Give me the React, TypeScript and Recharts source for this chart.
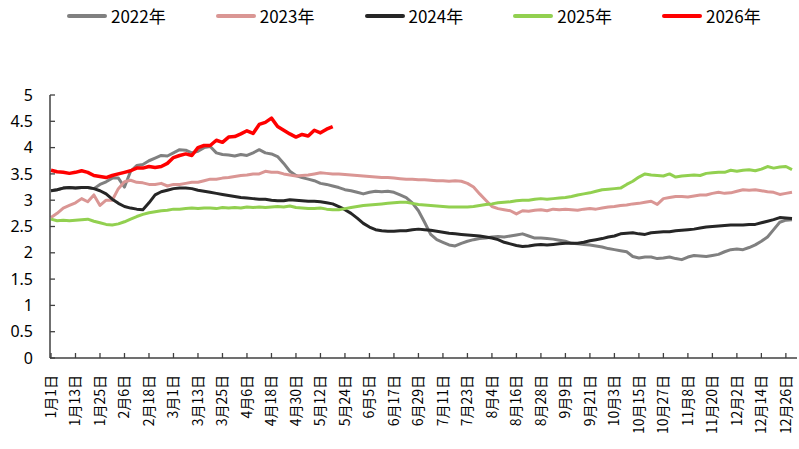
import React from 'react';
import { LineChart, Line, XAxis, YAxis } from 'recharts';

// every 3rd day of the (leap) year, Jan 1 .. Dec 29
const dates = Array.from({ length: 122 }, (_, i) => {
  const d = new Date(2024, 0, 1 + i * 3);
  return `${d.getMonth() + 1}月${d.getDate()}日`;
});

const yTicks = [0, 0.5, 1, 1.5, 2, 2.5, 3, 3.5, 4, 4.5, 5];

const v2022 = [
  3.18, 3.2, 3.23, 3.24, 3.23, 3.24, 3.24, 3.22, 3.3, 3.35,
  3.42, 3.42, 3.25, 3.55, 3.66, 3.68, 3.75, 3.8, 3.85, 3.84,
  3.9, 3.96, 3.95, 3.9, 3.93, 4.0, 4.02, 3.9, 3.87, 3.86,
  3.84, 3.87, 3.85, 3.9, 3.96, 3.9, 3.88, 3.83, 3.7, 3.55,
  3.47, 3.43, 3.4, 3.37, 3.32, 3.3, 3.27, 3.24, 3.2, 3.18,
  3.15, 3.12, 3.15, 3.17, 3.16, 3.17, 3.15, 3.1, 3.05, 2.95,
  2.8, 2.58, 2.35, 2.25, 2.2, 2.15, 2.13, 2.18, 2.22, 2.25,
  2.27, 2.28, 2.3, 2.31, 2.3, 2.32, 2.34, 2.36, 2.32, 2.28,
  2.28, 2.27, 2.26, 2.24, 2.22, 2.18, 2.17, 2.16, 2.15, 2.13,
  2.11, 2.08, 2.06, 2.04, 2.02, 1.93, 1.9, 1.92, 1.92, 1.89,
  1.9, 1.92, 1.89, 1.87, 1.92, 1.95, 1.94, 1.93, 1.95, 1.97,
  2.02, 2.06, 2.07, 2.06, 2.1, 2.15, 2.22, 2.3, 2.44, 2.58,
  2.62, 2.63,
];

const v2023 = [
  2.67, 2.75, 2.85, 2.9, 2.95, 3.03, 2.97, 3.1, 2.9, 3.0,
  3.0, 3.22, 3.35, 3.38, 3.34, 3.33, 3.3, 3.3, 3.32, 3.27,
  3.3, 3.3, 3.32, 3.34, 3.34, 3.37, 3.4, 3.4, 3.42, 3.43,
  3.45, 3.47, 3.48, 3.5, 3.5, 3.55, 3.53, 3.53, 3.5, 3.48,
  3.46, 3.47, 3.48, 3.5, 3.52, 3.51, 3.5, 3.5, 3.49, 3.48,
  3.47, 3.46, 3.45, 3.44, 3.43, 3.43, 3.42, 3.41, 3.4, 3.4,
  3.39, 3.39, 3.38, 3.37, 3.37, 3.36, 3.37, 3.36, 3.32, 3.25,
  3.12, 3.0, 2.88, 2.84, 2.82, 2.8, 2.74, 2.8, 2.79, 2.81,
  2.82, 2.8, 2.83, 2.82, 2.83, 2.82, 2.81, 2.83, 2.84, 2.83,
  2.85, 2.87, 2.88, 2.9, 2.91, 2.93, 2.94, 2.96, 2.98, 2.92,
  3.03, 3.05, 3.07, 3.07, 3.06, 3.08, 3.1, 3.1, 3.13, 3.15,
  3.13, 3.14, 3.17, 3.2, 3.19, 3.2, 3.18, 3.16, 3.15, 3.11,
  3.13, 3.15,
];

const v2024 = [
  3.18, 3.2, 3.23, 3.24, 3.23, 3.24, 3.24, 3.22, 3.18, 3.12,
  3.02, 2.94, 2.88, 2.85, 2.83, 2.82, 2.95, 3.1, 3.16, 3.19,
  3.22, 3.23, 3.23, 3.22, 3.19, 3.17, 3.15, 3.13, 3.11, 3.09,
  3.07, 3.05, 3.04, 3.03, 3.02, 3.02, 3.0, 2.99, 2.99, 3.01,
  3.0, 2.99, 2.98, 2.98, 2.97, 2.95, 2.93, 2.88, 2.82, 2.75,
  2.66, 2.56, 2.49, 2.44, 2.42, 2.41, 2.41, 2.42, 2.42, 2.44,
  2.45, 2.44, 2.43, 2.41, 2.39, 2.37, 2.36, 2.35, 2.34, 2.33,
  2.32, 2.3, 2.28, 2.25, 2.2, 2.17, 2.14, 2.12, 2.13, 2.15,
  2.16, 2.15, 2.16, 2.17, 2.18, 2.18, 2.18, 2.2, 2.23, 2.25,
  2.27, 2.3, 2.32, 2.36, 2.37, 2.38, 2.36, 2.35, 2.38, 2.39,
  2.4, 2.4, 2.42, 2.43, 2.44, 2.45, 2.47, 2.49, 2.5, 2.51,
  2.52, 2.53, 2.53, 2.53, 2.54, 2.54, 2.57, 2.6, 2.63, 2.67,
  2.66, 2.65,
];

const v2025 = [
  2.64, 2.61, 2.62, 2.61, 2.62, 2.63, 2.64, 2.6, 2.57, 2.54,
  2.53, 2.55, 2.59, 2.64, 2.69, 2.73, 2.76, 2.78, 2.8, 2.81,
  2.83, 2.83, 2.84, 2.85, 2.84, 2.85, 2.85, 2.84, 2.86, 2.85,
  2.86, 2.85, 2.87, 2.86, 2.87, 2.86, 2.87, 2.88, 2.87, 2.89,
  2.86, 2.85, 2.84, 2.84, 2.85, 2.83, 2.82, 2.82, 2.84, 2.86,
  2.88, 2.9, 2.91, 2.92, 2.93, 2.94, 2.95, 2.96, 2.96, 2.94,
  2.92, 2.91, 2.9, 2.89, 2.88, 2.87, 2.87, 2.87, 2.87, 2.88,
  2.9, 2.92, 2.93, 2.95, 2.96, 2.97, 2.99, 3.0, 3.0, 3.02,
  3.03, 3.02, 3.03, 3.04, 3.05, 3.07, 3.1, 3.12, 3.14, 3.17,
  3.2, 3.21, 3.22, 3.23, 3.3, 3.36, 3.44, 3.5, 3.48, 3.47,
  3.46, 3.5, 3.44, 3.46, 3.47, 3.48, 3.47, 3.51, 3.52, 3.53,
  3.53, 3.57, 3.55, 3.57, 3.58, 3.56, 3.59, 3.64, 3.61, 3.63,
  3.64, 3.58,
];

const v2026 = [
  3.57, 3.54, 3.53, 3.51, 3.53, 3.56, 3.53, 3.47, 3.45, 3.43,
  3.47, 3.5, 3.53, 3.56, 3.61, 3.61, 3.64, 3.62, 3.64, 3.7,
  3.81, 3.85, 3.88, 3.85, 4.0, 4.04, 4.04, 4.14, 4.1, 4.2,
  4.21, 4.26, 4.32, 4.27, 4.44, 4.48, 4.56, 4.4, 4.33, 4.26,
  4.2, 4.25, 4.22, 4.33, 4.28, 4.35, 4.4,
];

const series = [
  { key: 'y2022', name: '2022年', color: '#808080', values: v2022 },
  { key: 'y2023', name: '2023年', color: '#DA9694', values: v2023 },
  { key: 'y2024', name: '2024年', color: '#262626', values: v2024 },
  { key: 'y2025', name: '2025年', color: '#92D050', values: v2025 },
  { key: 'y2026', name: '2026年', color: '#FF0000', values: v2026 },
];

const data = dates.map((date, i) => {
  const row: Record<string, string | number | null> = { date };
  series.forEach((s) => {
    row[s.key] = i < s.values.length ? s.values[i] : null;
  });
  return row;
});

const axisColor = '#404040';
const latin = "'Noto Sans', 'Noto Sans CJK SC', sans-serif";
const cjk = "'Noto Sans CJK SC', 'Noto Sans', sans-serif";

const XTick = (props: any) => {
  const { x, y, payload } = props;
  return (
    <g>
      <line x1={x} y1={y} x2={x} y2={y - 5} stroke={axisColor} strokeWidth={1.3} />
      <text
        x={x}
        y={y + 17}
        dy="0.35em"
        transform={`rotate(-90, ${x}, ${y + 17})`}
        textAnchor="end"
        fontSize={14}
        fontFamily={cjk}
        fill="#000"
      >
        {payload.value}
      </text>
    </g>
  );
};

const YTick = (props: any) => {
  const { x, y, payload } = props;
  return (
    <g>
      <line x1={x} y1={y} x2={x + 5} y2={y} stroke={axisColor} strokeWidth={1.3} />
      <text x={x - 17} y={y} dy="0.35em" textAnchor="end" fontSize={16} fontFamily={latin} fill="#000">
        {payload.value}
      </text>
    </g>
  );
};

const LegendRow = () => (
  <div
    style={{
      position: 'absolute',
      left: 67,
      top: 5,
      display: 'flex',
      fontFamily: cjk,
      fontSize: 17,
      color: '#000',
    }}
  >
    {series.map((s) => (
      <div key={s.key} style={{ width: 148.75, display: 'flex', alignItems: 'center' }}>
        <div style={{ width: 40, height: 4, borderRadius: 2, background: s.color, marginRight: 4 }} />
        <span style={{ lineHeight: '22px' }}>{s.name}</span>
      </div>
    ))}
  </div>
);

export default function App() {
  return (
    <div style={{ position: 'absolute', left: 0, top: 0, width: 799, height: 449, background: '#fff' }}>
      <LegendRow />
      <LineChart width={799} height={449} data={data} margin={{ top: 95, right: 2, bottom: 0, left: 0 }}>
        <XAxis
          dataKey="date"
          interval={3}
          height={91}
          padding={{ left: 1, right: 5 }}
          tickSize={0}
          tickMargin={0}
          tickLine={false}
          axisLine={{ stroke: axisColor, strokeWidth: 1.5 }}
          tick={<XTick />}
        />
        <YAxis
          domain={[0, 5]}
          ticks={yTicks}
          interval={0}
          width={50}
          tickSize={0}
          tickMargin={0}
          tickLine={false}
          axisLine={{ stroke: axisColor, strokeWidth: 1.5 }}
          tick={<YTick />}
        />
        {series.map((s) => (
          <Line
            key={s.key}
            dataKey={s.key}
            name={s.name}
            type="linear"
            stroke={s.color}
            strokeWidth={s.key === 'y2026' ? 3.5 : 3}
            strokeLinejoin="round"
            dot={false}
            activeDot={false}
            isAnimationActive={false}
          />
        ))}
      </LineChart>
    </div>
  );
}
